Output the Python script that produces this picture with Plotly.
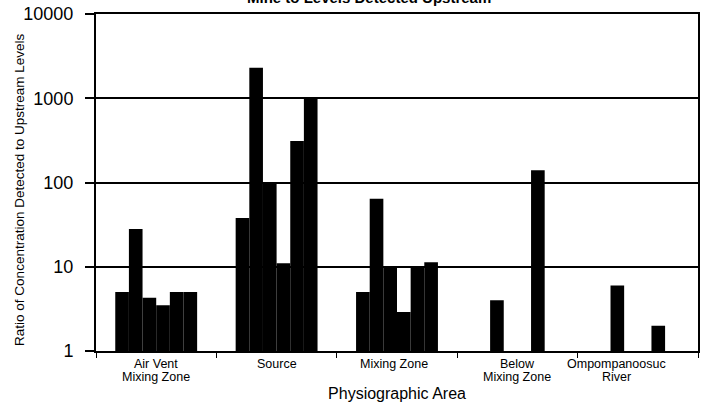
import plotly.graph_objects as go

categories = ["Air Vent Mixing Zone", "Source", "Mixing Zone", "Below Mixing Zone", "Ompompanoosuc River"]
label_line1 = ["Air Vent", "Source", "Mixing Zone", "Below", "Ompompanoosuc"]
label_line2 = ["Mixing Zone", "", "", "Mixing Zone", "River"]
series_names = ["S1", "S2", "S3", "S4", "S5", "S6"]
s1 = [5, 38, 5, None, None]
s2 = [28, 2300, 64, 4, 6]
s3 = [4.3, 100, 10, None, None]
s4 = [3.5, 11, 2.9, None, None]
s5 = [5, 310, 10, 140, 2]
s6 = [5, 1000, 11.3, None, None]
all_series = [s1, s2, s3, s4, s5, s6]
label_shift = [0, 0, -3, 0, -21]

fig = go.Figure()
for name, vals in zip(series_names, all_series):
    fig.add_trace(go.Bar(x=categories, y=vals, name=name,
                         marker=dict(color="black", line=dict(width=0))))

lab_font = dict(family="Liberation Sans, Arial", size=12.5, color="black")
for cat, l1, l2, sh in zip(categories, label_line1, label_line2, label_shift):
    fig.add_annotation(x=cat, xref="x", y=0, yref="paper", yanchor="middle", borderpad=0,
                       yshift=-13, xshift=sh, text=l1, showarrow=False, font=lab_font)
    if l2:
        fig.add_annotation(x=cat, xref="x", y=0, yref="paper", yanchor="middle", borderpad=0,
                           yshift=-26, xshift=sh, text=l2, showarrow=False, font=lab_font)

fig.add_annotation(text="<b>Mine to Levels Detected Upstream</b>", xref="paper", yref="paper",
                   x=(369 - 96) / 602, y=1, yanchor="bottom", yshift=6, showarrow=False,
                   font=dict(family="Liberation Sans, Arial", size=15, color="black"))

fig.add_annotation(text="Ratio of Concentration Detected to Upstream Levels", textangle=-90,
                   xref="paper", yref="paper", x=(20 - 96) / 602, y=0.478,
                   xanchor="center", yanchor="middle", showarrow=False,
                   font=dict(family="Liberation Sans, Arial", size=13.5, color="black"))

fig.update_layout(
    width=705, height=402,
    margin=dict(l=96, r=7, t=14, b=51),
    paper_bgcolor="white", plot_bgcolor="white",
    barmode="group", bargap=0.32, bargroupgap=0,
    showlegend=False,
    font=dict(family="Liberation Sans, Arial", color="black"),
)
fig.update_xaxes(
    type="category", showticklabels=False, automargin=False,
    showline=True, linecolor="black", linewidth=2, mirror=True,
    ticks="outside", tickson="boundaries", ticklen=5, tickcolor="black", tickwidth=1,
    title=dict(text="Physiographic Area", font=dict(size=16), standoff=37),
)
fig.update_yaxes(
    type="log", range=[0, 4], automargin=False,
    tickvals=[1, 10, 100, 1000, 10000], ticktext=["1", "10", "100", "1000", "10000"],
    tickfont=dict(size=18), ticklabelstandoff=8, ticklabeloverflow="allow",
    showline=True, linecolor="black", linewidth=2, mirror=True,
    ticks="outside", ticklen=9, tickcolor="black", tickwidth=2,
    showgrid=True, gridcolor="black", gridwidth=2,
)

fig.write_html("out.html", config={"displayModeBar": False},
               post_script="document.body.style.margin='0';")
